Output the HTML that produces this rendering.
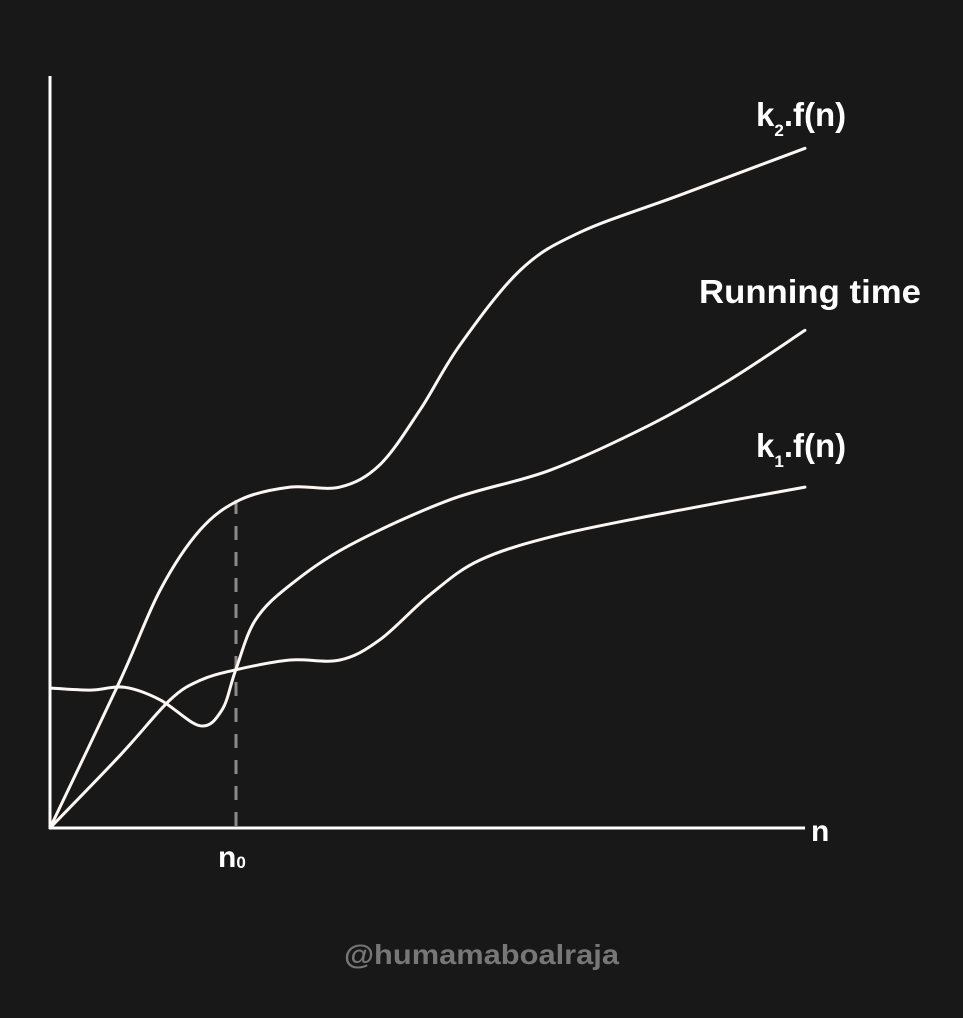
<!DOCTYPE html>
<html><head><meta charset="utf-8"><style>
html,body{margin:0;padding:0;background:#181818;}
svg{display:block;}
text{font-family:"Liberation Sans",sans-serif;fill:#fff;}
</style></head><body>
<svg id="chart" width="963" height="1018" viewBox="0 0 963 1018">
<rect width="963" height="1018" fill="#181818"/>
<line x1="236" y1="500" x2="236" y2="828" stroke="#8a8a8a" stroke-width="3" stroke-dasharray="14,12"/>
<g id="curves"></g>
<line x1="50" y1="76" x2="50" y2="829" stroke="#fff" stroke-width="3"/>
<line x1="49" y1="828" x2="805" y2="828" stroke="#fff" stroke-width="3"/>
<text x="756" y="126" font-size="33" font-weight="bold">k<tspan font-size="17" dy="10">2</tspan><tspan dy="-10">.f(n)</tspan></text>
<text x="699" y="303" font-size="33" font-weight="bold" textLength="222" lengthAdjust="spacingAndGlyphs">Running time</text>
<text x="756" y="457" font-size="33" font-weight="bold">k<tspan font-size="17" dy="10">1</tspan><tspan dy="-10">.f(n)</tspan></text>
<text x="811" y="841" font-size="30" font-weight="bold">n</text>
<text x="218" y="867" font-size="30" font-weight="bold">n<tspan font-size="17" dy="1">0</tspan></text>
<text x="344" y="964" font-size="28" font-weight="bold" textLength="275" lengthAdjust="spacingAndGlyphs" style="fill:#777">@humamaboalraja</text>
</svg>
<script>
const runX=[0,5.3,9.9,14.6,19.9,22.8,24.6,27.2,31.8,39.7,53,66.2,79.5,90,100];
const runY=[20,19.7,20.1,18.3,14.6,16.9,22.6,29.7,34.7,40.4,46.9,51.1,57.6,64,71.1];
const k2X=[0,9.3,14.6,19.9,25.2,31.8,38.4,43.7,49,54.3,62.3,70.2,83.4,100];
const k2Y=[0,21.1,34,42.6,46.9,48.7,48.7,51.9,59.7,69,79.7,85.1,90.4,97.1];
const k1X=[0,9.3,15.9,19.9,24.6,31.8,38.4,43.7,50.3,57,67.5,83.4,100];
const k1Y=[0,10.4,18.3,21.1,22.6,24,24,26.9,33.3,38.3,41.9,45.4,48.7];
function sx(u){return 50+u*7.55;}
function sy(v){return 828-v*7;}
function pathFor(xs,ys){
  const p=xs.map((x,i)=>[sx(x),sy(ys[i])]);
  let d="M"+p[0][0]+","+p[0][1];
  for(let i=0;i<p.length-1;i++){
    const p0=p[Math.max(0,i-1)],p1=p[i],p2=p[i+1],p3=p[Math.min(p.length-1,i+2)];
    const c1=[p1[0]+(p2[0]-p0[0])/6,p1[1]+(p2[1]-p0[1])/6];
    const c2=[p2[0]-(p3[0]-p1[0])/6,p2[1]-(p3[1]-p1[1])/6];
    d+=" C"+c1[0]+","+c1[1]+" "+c2[0]+","+c2[1]+" "+p2[0]+","+p2[1];
  }
  return d;
}
const g=document.getElementById('curves');
function addCurve(xs,ys,name){
  const el=document.createElementNS("http://www.w3.org/2000/svg","path");
  el.setAttribute('d',pathFor(xs,ys));
  el.setAttribute('fill','none');
  el.setAttribute('stroke','#fbf7f4');
  el.setAttribute('stroke-width','3');
  el.setAttribute('stroke-linecap','round');
  
  
  g.appendChild(el);
}
addCurve(runX,runY,'running-time-curve');
addCurve(k2X,k2Y,'k2-curve');
addCurve(k1X,k1Y,'k1-curve');
</script>
</body></html>
